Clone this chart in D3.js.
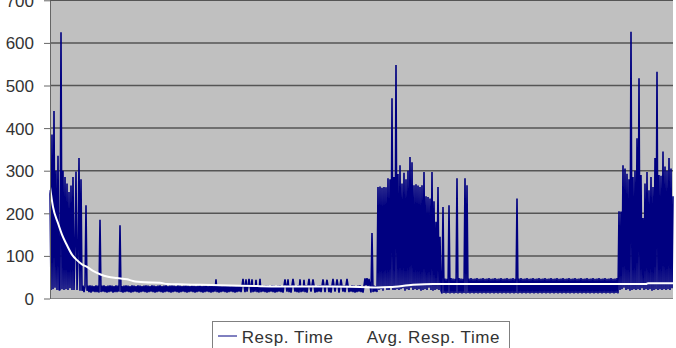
<!DOCTYPE html>
<html><head><meta charset="utf-8">
<script src="https://cdn.jsdelivr.net/npm/d3@7"></script>
<style>body{margin:0;background:#fff;} svg{display:block;}</style>
</head><body>
<svg id="c" width="676" height="348"></svg>
<script>
// ---- data ----
const yTicks = [0,100,200,300,400,500,600,700];
const seriesNames = ["Resp. Time", "Avg. Resp. Time"];

// first burst (start of run)
const respBurst1 = [255,20,385,22,440,25,300,20,335,20,20,625,22,300,20,285,22,270,20,250,
  24,265,20,285,20,120,298,20,95,330,18,280,18,30,15,28,219,18];
// quiet period
const respQuiet1 = [
  30,15,31,14,30,16,29,15,31,15,
  30,14,185,15,30,16,31,15,29,14,
  30,15,31,16,30,14,29,15,31,15,
  30,16,172,15,29,14,30,15,31,16,
  30,15,29,14,31,15,30,16,29,15,
  31,14,30,15,29,16,30,15,31,14,
  30,15,29,16,31,15,30,14,29,15,
  30,16,31,15,29,14,30,15,31,16,
  29,15,30,14,31,15,30,16,29,15,
  31,14,30,15,29,16,30,15,31,14,
  30,15,29,16,31,15,30,14,29,15,
  30,16,31,15,29,14,30,15,31,16,
  29,15,30,14,31,15,30,16,45,15,
  31,14,30,15,29,16,30,15,31,14,
  30,15,29,16,31,15,30,14,29,15,
  30,16,31,15,29,46,30,15,45,16,
  29,46,30,14,45,15,30,16,44,15,
  31,14,46,15,29,16,30,15,31,14,
  30,15,29,16,31,15,30,14,29,15,
  30,16,31,15,29,14,30,45,31,16,
  45,15,30,14,31,46,30,16,29,15,
  31,14,45,15,29,16,44,15,31,14,
  30,46,29,16,31,45,30,14,29,15,
  30,16,31,15,29,45,30,15,31,44,
  29,15,30,14,31,46,30,16,29,45,
  31,14,30,45,29,16,30,15,31,46,
  30,15,29,16,31,15,30,14,29,15,
  30,16,31,15,29,14,30,47,31,48,
  29,46,30,14,154,15,30,16,29,15];
// second burst
const respBurst2 = [
  262,20,263,22,260,18,262,25,261,20,
  282,20,280,25,470,20,285,20,548,22,
  292,20,313,22,270,24,295,18,280,22,
  300,20,332,25,320,20,266,22,268,20,
  265,22,262,18,266,20,297,22,240,20,
  238,25,235,20,297,18,228,20,180,22,
  262,20,145,18];
// second quiet period
const respQuiet2 = [
  12,215,13,47,12,46,13,219,12,48,
  13,47,12,46,13,282,12,48,13,47,
  12,46,13,282,12,266,13,47,12,48,
  13,46,12,47,13,48,12,46,13,47,
  12,48,13,46,12,47,13,48,12,46,
  13,47,12,48,13,46,12,47,13,48,
  12,46,13,47,12,48,13,46,12,47,
  13,48,12,46,13,235,12,47,13,48,
  12,46,13,47,12,48,13,46,12,47,
  13,48,12,46,13,47,12,48,13,46,
  12,47,13,48,12,46,13,47,12,48,
  13,46,12,47,13,48,12,46,13,47,
  12,48,13,46,12,47,13,48,12,46,
  13,47,12,48,13,46,12,47,13,48,
  12,46,13,47,12,48,13,46,12,47,
  13,48,12,46,13,47,12,48,13,46,
  12,47,13,48,12,46,13,47,12,48,
  13,46,12,47,13,48,12];
// third burst
const respBurst3 = [
  205,20,204,22,313,25,305,20,293,22,
  280,18,626,20,285,22,300,20,376,22,
  517,20,290,24,189,20,270,22,297,20,
  254,22,285,18,262,20,330,22,532,20,
  290,22,288,20,345,22,310,20,300,22,
  330,20,305,24,240];

// average response time (sample index, value)
const avgIdx = [0,3,8,12,17,22,27,32,37,43,50,58,67,77,83,95,110,117,135,150,170,190,210,250,277,310,328,340,363,383,430,490,596,598,623];
const avgVal = [262,215,177,150,125,103,90,80,74,65,57,51,48,45,41,38,37,34,33,32,31,30,29,28,28,27,26,27,32,34,34,34,34,36,36];

// ---- drawing ----
const respTime = [].concat(respBurst1, respQuiet1, respBurst2, respQuiet2, respBurst3);
const L = 50, R = 673, T = 0.3, B = 298.5;
const svg = d3.select("#c");
const font = "'Liberation Sans', Arial, sans-serif";
const x = d3.scaleLinear().domain([0, respTime.length - 1]).range([L, R]);
const y = d3.scaleLinear().domain([0, 700]).range([B, T]);

svg.append("rect").attr("x", L).attr("y", 0).attr("width", R - L).attr("height", B)
  .attr("fill", "#c0c0c0");

svg.append("g").selectAll("line").data(yTicks.filter(d => d > 0)).join("line")
  .attr("x1", L).attr("x2", R).attr("y1", d => y(d)).attr("y2", d => y(d))
  .attr("stroke", "#555").attr("stroke-width", 1.5);

svg.append("path").datum(respTime)
  .attr("d", d3.line().x((d, i) => x(i)).y(d => y(d)))
  .attr("fill", "none").attr("stroke", "#000080").attr("stroke-width", 1.6)
  .attr("stroke-linejoin", "bevel");

svg.append("path").datum(avgIdx.map((d, i) => [d, avgVal[i]]))
  .attr("d", d3.line().x(d => x(d[0])).y(d => y(d[1])).curve(d3.curveMonotoneX))
  .attr("fill", "none").attr("stroke", "#fff").attr("stroke-width", 2);

svg.append("line").attr("x1", L).attr("x2", R).attr("y1", B).attr("y2", B)
  .attr("stroke", "#888").attr("stroke-width", 1);

const ax = svg.append("g").attr("transform", `translate(${L},0)`)
  .call(d3.axisLeft(y).tickValues(yTicks).tickSize(6).tickSizeOuter(0).tickPadding(10));
ax.select(".domain").attr("stroke", "#666");
ax.selectAll(".tick line").attr("stroke", "#666");
ax.selectAll(".tick text").attr("fill", "#333").style("font-family", font)
  .style("font-size", "17px").attr("dy", "0.35em");

// legend
const lg = svg.append("g");
lg.append("rect").attr("x", 212.5).attr("y", 321.5).attr("width", 297).attr("height", 40)
  .attr("fill", "#fff").attr("stroke", "#808080");
const legX = [218, 343];
const legTx = [241.7, 366.7];
const legCol = ["#000080", "#fff"];
seriesNames.forEach((n, i) => {
  lg.append("line").attr("x1", legX[i]).attr("x2", legX[i] + 19).attr("y1", 336).attr("y2", 336)
    .attr("stroke", legCol[i]).attr("stroke-width", i ? 2 : 1);
  lg.append("text").attr("x", legTx[i]).attr("y", 343).text(n)
    .attr("fill", "#333").style("font-family", font).style("font-size", "17px")
    .style("letter-spacing", "0.6px");
});
</script>
</body></html>
